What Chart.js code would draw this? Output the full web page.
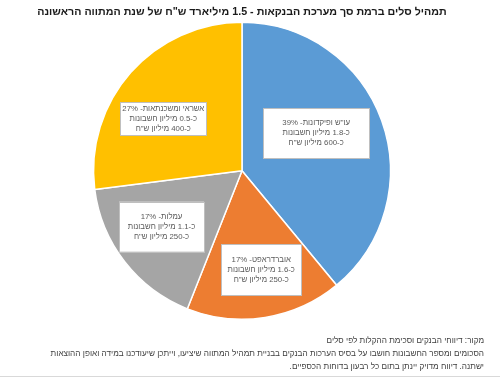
<!DOCTYPE html>
<html>
<head>
<meta charset="utf-8">
<script src="https://cdn.jsdelivr.net/npm/chart.js@4/dist/chart.umd.min.js"></script>
<style>
	html, body { margin: 0; padding: 0; background: #fff; }
	#wrap { width: 500px; height: 379px; }
</style>
</head>
<body>
<div id="wrap"><canvas id="mixChart" dir="rtl" width="500" height="379"></canvas></div>
<script>
// slices, clockwise from the top
var categories = ['עו"ש ופיקדונות', 'אוברדראפט', 'עמלות', 'אשראי ומשכנתאות']
var shares = [39, 17, 17, 27]
var accounts = [1.8, 1.6, 1.1, 0.5]      // million accounts
var amounts = [600, 250, 250, 400]       // million NIS
var colors = ['#5B9BD5', '#ED7D31', '#A5A5A5', '#FFC000']

var titleText = 'תמהיל סלים ברמת סך מערכת הבנקאות - 1.5 מיליארד ש"ח של שנת המתווה הראשונה'
var footerLines = [
	'מקור: דיווחי הבנקים וסכימת ההקלות לפי סלים',
	'הסכומים ומספר החשבונות חושבו על בסיס הערכות הבנקים בבניית תמהיל המתווה שיציעו, וייתכן שיעודכנו במידה ואופן ההוצאות',
	'ישתנה. דיווח מדויק יינתן בתום כל רבעון בדוחות הכספיים.'
]

// where each label box sits: fraction of radius, angle tweak (deg), box size
var labelLayout = [
	{ frac: 0.56, turn: -7, w: 106, h: 50 },
	{ frac: 0.68, turn: -2, w: 80, h: 51 },
	{ frac: 0.66, turn: 3, w: 85, h: 50 },
	{ frac: 0.635, turn: -8, w: 86, h: 33 }
]

var FONT = '"Liberation Sans", Arial, sans-serif'

var sliceLabels = {
	id: 'sliceLabels',
	afterDatasetsDraw: function (chart) {
		var ctx = chart.ctx
		var meta = chart.getDatasetMeta(0)
		meta.data.forEach(function (arc, i) {
			var p = arc.getProps(['x', 'y', 'startAngle', 'endAngle', 'outerRadius'], true)
			var L = labelLayout[i]
			var mid = (p.startAngle + p.endAngle) / 2 + L.turn * Math.PI / 180
			var cx = p.x + Math.cos(mid) * p.outerRadius * L.frac
			var cy = p.y + Math.sin(mid) * p.outerRadius * L.frac
			ctx.save()
			ctx.fillStyle = '#fff'
			ctx.strokeStyle = '#bfbfbf'
			ctx.lineWidth = 1
			ctx.fillRect(cx - L.w / 2, cy - L.h / 2, L.w, L.h)
			ctx.strokeRect(Math.round(cx - L.w / 2) + 0.5, Math.round(cy - L.h / 2) + 0.5, L.w, L.h)
			var lines = [
				categories[i] + '- ' + shares[i] + '%',
				'כ-' + accounts[i] + ' מיליון חשבונות',
				'כ-' + amounts[i] + ' מיליון ש"ח'
			]
			ctx.fillStyle = '#595959'
			ctx.font = '7.8px ' + FONT
			ctx.textAlign = 'center'
			ctx.textBaseline = 'middle'
			lines.forEach(function (t, k) {
				ctx.fillText(t, cx, cy + (k - 1) * 10)
			})
			ctx.restore()
		})
	},
	afterDraw: function (chart) {
		var ctx = chart.ctx
		ctx.save()
		ctx.strokeStyle = '#d9d9d9'
		ctx.lineWidth = 1
		ctx.beginPath()
		ctx.moveTo(0, 376.5)
		ctx.lineTo(500, 376.5)
		ctx.stroke()
		ctx.restore()
	}
}

function initPieChart(id) {
	var chart = new Chart(document.getElementById(id), {
		type: 'pie',
		data: {
			labels: categories,
			datasets: [{
				data: shares,
				backgroundColor: colors,
				borderColor: '#fff',
				borderWidth: 1.5
			}]
		},
		options: {
			responsive: false,
			animation: false,
			layout: { padding: { top: 4, bottom: 6, left: 0, right: 16 } },
			plugins: {
				legend: { display: false },
				tooltip: { enabled: false },
				title: {
					display: true,
					text: titleText,
					color: '#1a1a1a',
					font: { family: FONT, size: 10.7, weight: 'bold', lineHeight: '15.6px' },
					padding: { top: 0, bottom: 2 }
				},
				subtitle: {
					display: true,
					position: 'bottom',
					align: 'end',
					text: footerLines,
					color: '#404040',
					font: { family: FONT, size: 8.2, lineHeight: '13px' },
					padding: { top: 14, bottom: 0 }
				}
			}
		},
		plugins: [sliceLabels]
	})
}

initPieChart('mixChart')
</script>
</body>
</html>
